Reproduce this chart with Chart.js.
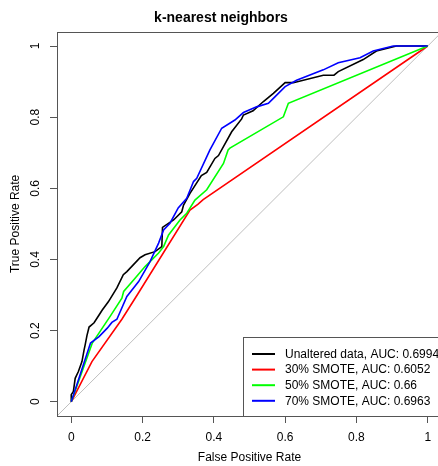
<!DOCTYPE html>
<html>
<head>
<meta charset="utf-8">
<script src="https://cdn.jsdelivr.net/npm/chart.js@4.4.1/dist/chart.umd.min.js"></script>
<style>
  html, body { margin: 0; padding: 0; overflow: hidden; background: #fff; width: 438px; height: 466px; }
  /* the plot box runs a bit past the right edge of the window, like the original */
  #wrap { position: absolute; left: 0; top: 0; width: 499px; height: 466px; }
</style>
</head>
<body>
<div id="wrap"><canvas id="roc" width="499" height="466"></canvas></div>
<script>
// ROC points, [false positive rate, true positive rate]
const unaltered = [[0,0],[0,0.02],[0.006,0.029],[0.011,0.066],[0.02,0.085],[0.03,0.113],[0.036,0.146],
  [0.039,0.16],[0.044,0.186],[0.05,0.21],[0.064,0.222],[0.078,0.244],[0.087,0.258],[0.104,0.281],
  [0.128,0.32],[0.146,0.357],[0.156,0.366],[0.193,0.405],[0.207,0.413],[0.235,0.422],[0.254,0.436],
  [0.256,0.49],[0.287,0.511],[0.31,0.534],[0.315,0.553],[0.333,0.586],[0.365,0.636],[0.38,0.645],
  [0.403,0.684],[0.413,0.692],[0.45,0.759],[0.478,0.795],[0.483,0.806],[0.51,0.818],[0.539,0.844],
  [0.567,0.867],[0.6,0.897],[0.623,0.897],[0.707,0.918],[0.737,0.918],[0.749,0.928],[0.819,0.962],
  [0.856,0.986],[0.912,1],[1,1]];
const smote30 = [[0,0],[0.058,0.113],[0.142,0.232],[0.188,0.305],[0.333,0.539],[0.355,0.555],
  [0.37,0.568],[1,1]];
const smote50 = [[0,0],[0.059,0.165],[0.109,0.24],[0.142,0.291],[0.147,0.31],[0.179,0.347],
  [0.207,0.38],[0.245,0.418],[0.259,0.436],[0.273,0.469],[0.305,0.511],[0.324,0.53],[0.347,0.567],
  [0.38,0.596],[0.427,0.67],[0.44,0.708],[0.445,0.713],[0.595,0.801],[0.609,0.839],[1,1]];
const smote70 = [[0,0],[0.054,0.165],[0.078,0.183],[0.101,0.207],[0.114,0.223],[0.128,0.232],
  [0.156,0.296],[0.189,0.338],[0.221,0.394],[0.245,0.446],[0.259,0.483],[0.277,0.502],[0.3,0.545],
  [0.324,0.572],[0.343,0.619],[0.352,0.628],[0.389,0.708],[0.422,0.769],[0.459,0.792],[0.483,0.813],
  [0.52,0.829],[0.553,0.839],[0.567,0.853],[0.6,0.886],[0.632,0.904],[0.707,0.933],[0.749,0.953],
  [0.81,0.967],[0.847,0.986],[0.903,1],[1,1]];
// chance line, drawn across the whole box
const chanceLine = [[-0.04,-0.04],[1.04,1.04]];

const seriesLabels = ['Unaltered data, AUC: 0.6994', '30% SMOTE, AUC: 0.6052',
  '50% SMOTE, AUC: 0.66', '70% SMOTE, AUC: 0.6963'];
const seriesColors = ['#000000', '#ff0000', '#00ff00', '#0000ff'];

const tickValues = [0, 0.2, 0.4, 0.6, 0.8, 1];
const tickLabels = ['0', '0.2', '0.4', '0.6', '0.8', '1'];

const FONT = '"Liberation Sans", Arial, Helvetica, sans-serif';
Chart.defaults.font.family = FONT;
Chart.defaults.color = '#000';

function toXY(pairs) {
  return pairs.map(p => ({ x: p[0], y: p[1] }));
}

let datasets = [unaltered, smote30, smote50, smote70].map((d, i) => ({
  label: seriesLabels[i],
  data: toXY(d),
  borderColor: seriesColors[i],
  backgroundColor: seriesColors[i],
  borderWidth: 1.6,
  showLine: true,
  pointRadius: 0,
  tension: 0,
  order: 4 - i
}));
datasets.push({
  label: '',
  data: toXY(chanceLine),
  borderColor: '#bebebe',
  borderWidth: 1,
  showLine: true,
  pointRadius: 0,
  order: 5,
  isGuide: true
});

// R style box around the plot region
const boxPlugin = {
  id: 'box',
  afterDraw(chart) {
    const a = chart.chartArea, ctx = chart.ctx;
    ctx.save();
    ctx.strokeStyle = '#555';
    ctx.lineWidth = 1;
    ctx.strokeRect(Math.round(a.left) + 0.5, Math.round(a.top) + 0.5,
      Math.round(a.right - a.left), Math.round(a.bottom - a.top));
    ctx.restore();
  }
};

// legend in the bottom right corner, like legend("bottomright") in R
const legendPlugin = {
  id: 'cornerLegend',
  afterDraw(chart) {
    const a = chart.chartArea, ctx = chart.ctx;
    const items = chart.data.datasets.filter(d => !d.isGuide);
    const left = 243, top = 337;
    ctx.save();
    ctx.fillStyle = '#fff';
    ctx.fillRect(left, top, a.right - left, a.bottom - top);
    ctx.strokeStyle = '#555';
    ctx.lineWidth = 1;
    ctx.strokeRect(left + 0.5, top + 0.5, a.right - left, Math.round(a.bottom - top));
    ctx.font = '12px ' + FONT;
    ctx.textBaseline = 'middle';
    ctx.textAlign = 'left';
    items.forEach((d, i) => {
      const y = 354 + i * 15.6;
      ctx.strokeStyle = d.borderColor;
      ctx.lineWidth = 2;
      ctx.beginPath();
      ctx.moveTo(252, y);
      ctx.lineTo(275, y);
      ctx.stroke();
      ctx.fillStyle = '#000';
      ctx.fillText(d.label, 285, y + 0.5);
    });
    ctx.restore();
  }
};

const axisTicks = s => { s.ticks = tickValues.map(v => ({ value: v })); };

new Chart(document.getElementById('roc'), {
  type: 'scatter',
  data: { datasets: datasets },
  plugins: [boxPlugin, legendPlugin],
  options: {
    responsive: false,
    animation: false,
    devicePixelRatio: 1,
    events: [],
    layout: { padding: { left: 0, right: 57, top: 0, bottom: 0 } },
    plugins: {
      legend: { display: false },
      tooltip: { enabled: false },
      title: {
        display: true,
        text: 'k-nearest neighbors',
        color: '#000',
        font: { size: 14, weight: 'bold' },
        padding: { top: 10, bottom: 5 }
      }
    },
    scales: {
      x: {
        type: 'linear',
        min: -0.04,
        max: 1.04,
        afterBuildTicks: axisTicks,
        afterFit: s => { s.height = 50; },
        border: { display: false },
        grid: { drawOnChartArea: false, drawTicks: true, tickLength: 7, color: '#555' },
        ticks: {
          autoSkip: false, maxRotation: 0, padding: 7, color: '#000',
          font: { size: 12 },
          callback: (v, i) => tickLabels[i]
        },
        title: { display: true, text: 'False Positive Rate', color: '#000', font: { size: 12 },
          padding: { top: 0, bottom: 1 } }
      },
      y: {
        type: 'linear',
        min: -0.04,
        max: 1.04,
        afterBuildTicks: axisTicks,
        afterFit: s => { s.width = 57; },
        border: { display: false },
        grid: { drawOnChartArea: false, drawTicks: true, tickLength: 7, color: '#555' },
        ticks: {
          autoSkip: false, minRotation: 90, maxRotation: 90, crossAlign: 'center',
          padding: 6, color: '#000', font: { size: 12 },
          callback: (v, i) => tickLabels[i]
        },
        title: { display: true, text: 'True Positive Rate', color: '#000', font: { size: 12 },
          padding: { top: 8, bottom: 0 } }
      }
    }
  }
});
</script>
</body>
</html>
